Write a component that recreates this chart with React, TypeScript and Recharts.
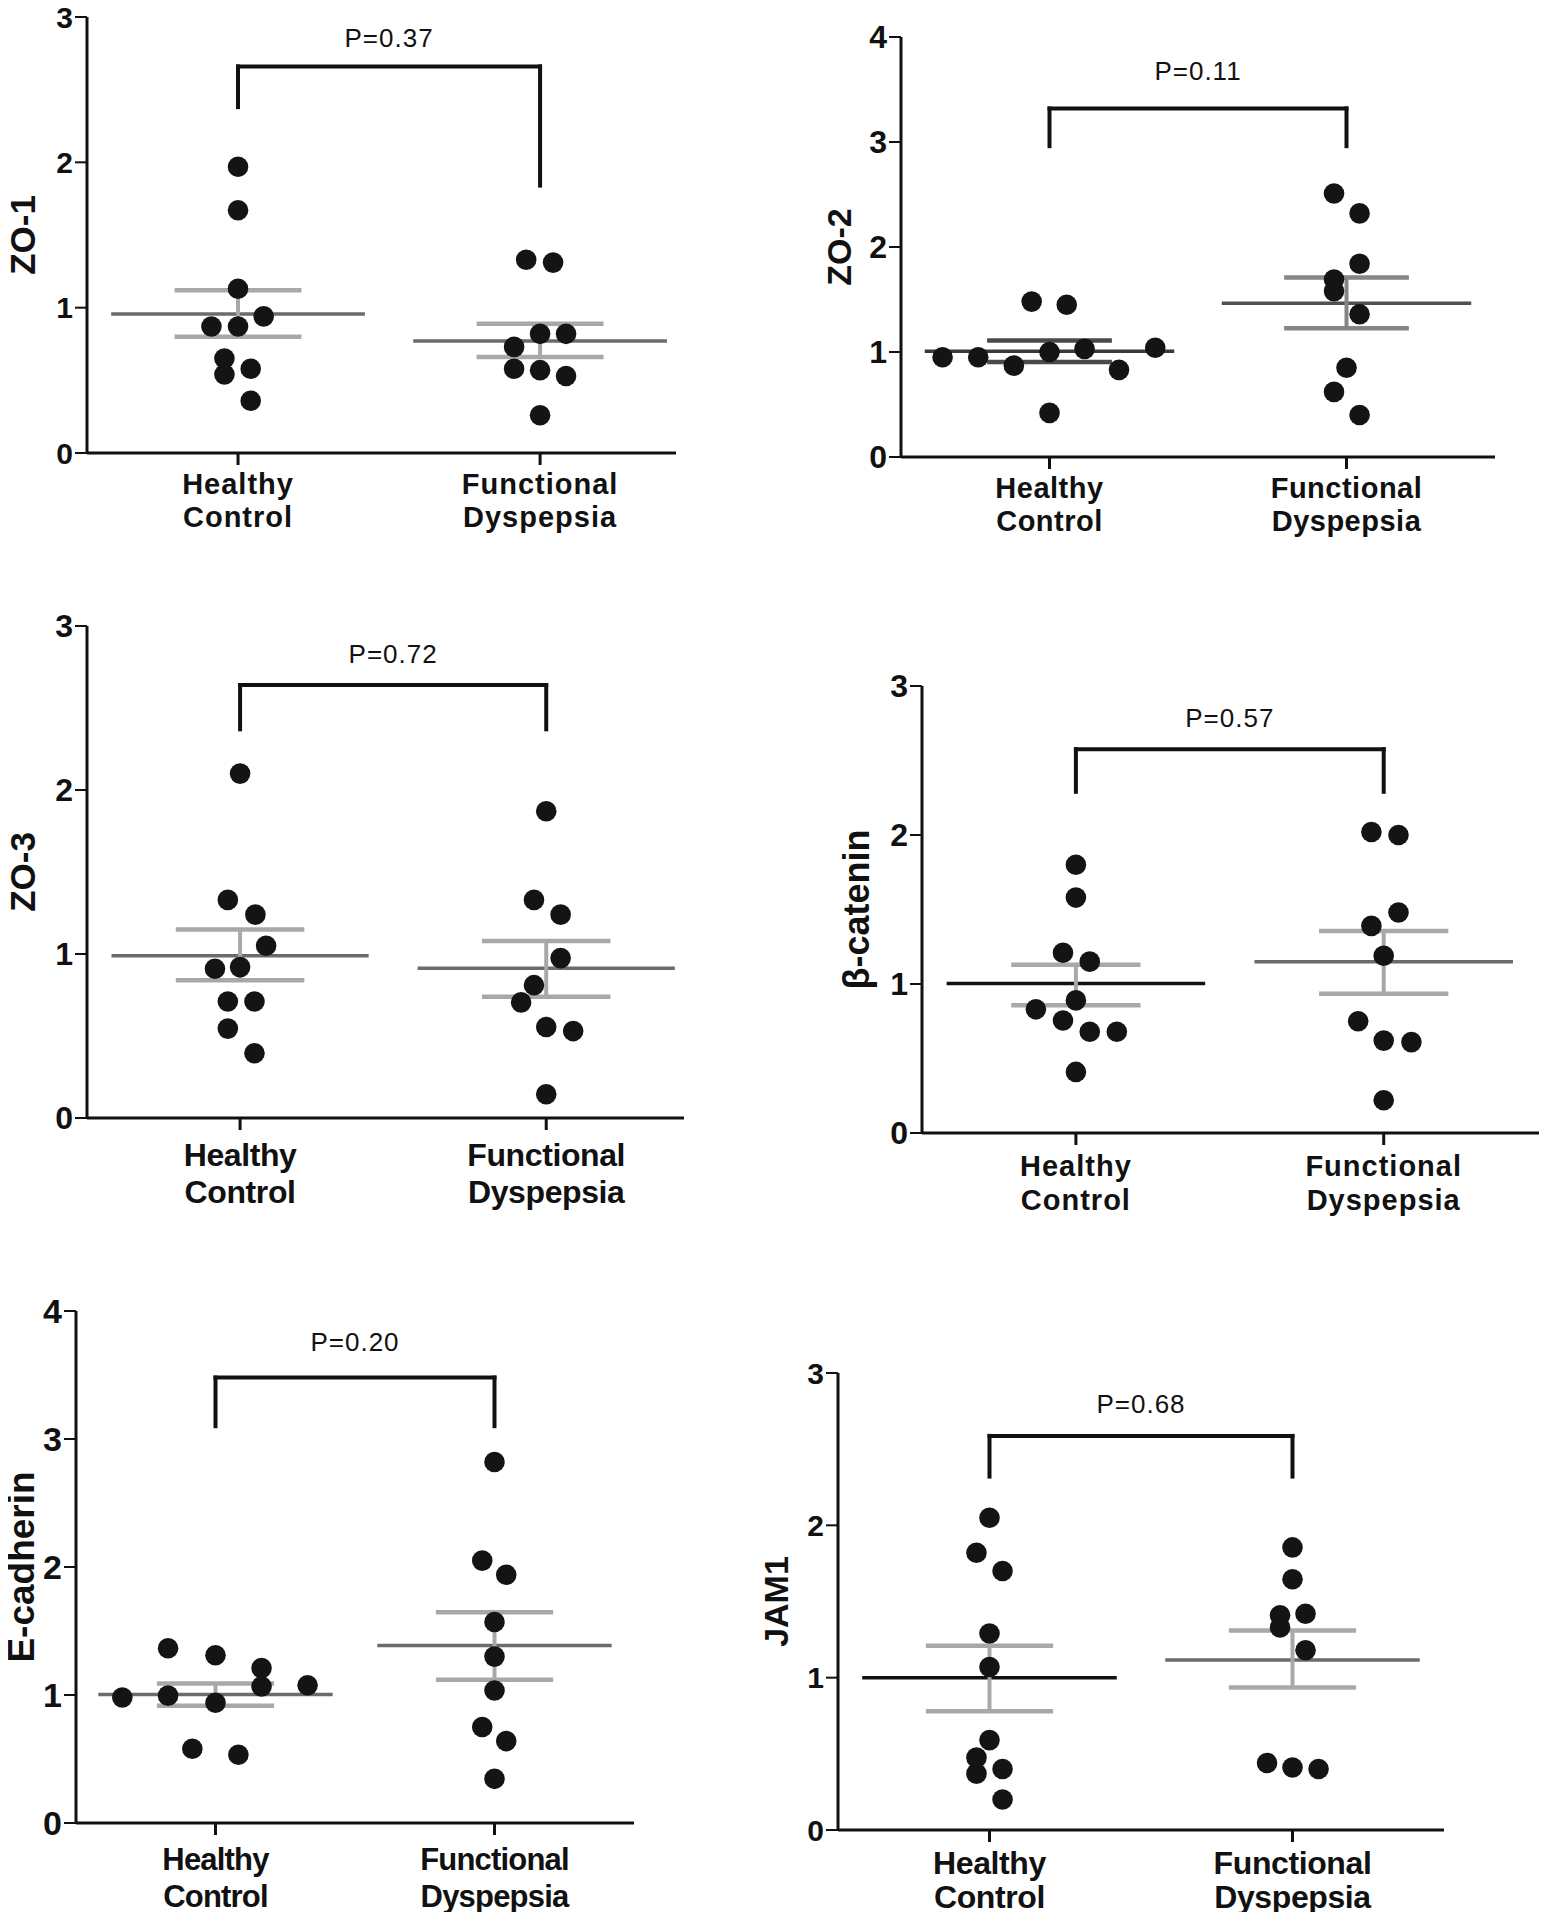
import React from 'react'
import { ScatterChart, Scatter, XAxis, YAxis, ReferenceLine, ReferenceDot } from 'recharts'

const FONT = '"Liberation Sans", Arial, sans-serif'

const groups = [
  ['Healthy', 'Control'],
  ['Functional', 'Dyspepsia'],
]

// values; jitter = horizontal offset of each dot (in group widths)
const zo1Healthy = [1.97, 1.67, 1.13, 0.94, 0.87, 0.87, 0.65, 0.54, 0.58, 0.36]
const zo1HealthyJitter = [0, 0, 0, 0.085, -0.088, 0, -0.045, -0.045, 0.042, 0.042]
const zo1Functional = [1.33, 1.31, 0.82, 0.82, 0.73, 0.58, 0.57, 0.53, 0.26]
const zo1FunctionalJitter = [-0.046, 0.043, 0, 0.086, -0.086, -0.086, 0, 0.086, 0]

const zo2Healthy = [1.48, 1.45, 0.95, 0.95, 0.87, 1.0, 1.03, 0.83, 1.04, 0.42]
const zo2HealthyJitter = [-0.06, 0.058, -0.36, -0.24, -0.12, 0, 0.118, 0.234, 0.356, 0]
const zo2Functional = [2.51, 2.32, 1.84, 1.69, 1.58, 1.36, 0.85, 0.62, 0.4]
const zo2FunctionalJitter = [-0.042, 0.044, 0.044, -0.042, -0.042, 0.044, 0, -0.042, 0.044]

const zo3Healthy = [2.1, 1.33, 1.24, 1.05, 0.91, 0.92, 0.71, 0.71, 0.545, 0.395]
const zo3HealthyJitter = [0, -0.04, 0.05, 0.085, -0.082, 0, -0.04, 0.047, -0.04, 0.047]
const zo3Functional = [1.87, 1.33, 1.24, 0.975, 0.81, 0.705, 0.555, 0.53, 0.145]
const zo3FunctionalJitter = [0, -0.04, 0.047, 0.047, -0.04, -0.082, 0, 0.088, 0]

const bcatHealthy = [1.8, 1.58, 1.21, 1.15, 0.89, 0.83, 0.755, 0.68, 0.68, 0.41]
const bcatHealthyJitter = [0, 0, -0.042, 0.045, 0, -0.13, -0.042, 0.045, 0.133, 0]
const bcatFunctional = [2.02, 2.0, 1.48, 1.39, 1.19, 0.75, 0.62, 0.61, 0.22]
const bcatFunctionalJitter = [-0.04, 0.048, 0.048, -0.04, 0, -0.083, 0, 0.09, 0]

const ecadHealthy = [0.98, 1.365, 0.995, 0.58, 1.31, 0.94, 0.533, 1.21, 1.067, 1.076]
const ecadHealthyJitter = [-0.334, -0.17, -0.17, -0.083, 0, 0, 0.082, 0.165, 0.165, 0.33]
const ecadFunctional = [2.82, 2.05, 1.94, 1.57, 1.3, 1.035, 0.75, 0.64, 0.345]
const ecadFunctionalJitter = [0, -0.044, 0.042, 0, 0, 0, -0.044, 0.042, 0]

const jamHealthy = [2.05, 1.82, 1.7, 1.29, 1.07, 0.59, 0.475, 0.37, 0.4, 0.2]
const jamHealthyJitter = [0, -0.043, 0.043, 0, 0, 0, -0.043, -0.043, 0.043, 0.043]
const jamFunctional = [1.855, 1.646, 1.41, 1.42, 1.33, 1.18, 0.44, 0.41, 0.4]
const jamFunctionalJitter = [0, 0, -0.041, 0.043, -0.041, 0.043, -0.084, 0, 0.086]

// mean and SEM per group [healthy, functional]
const zo1Mean = [0.956, 0.77]
const zo1SemHi = [1.12, 0.89]
const zo1SemLo = [0.8, 0.66]
const zo2Mean = [1.007, 1.464]
const zo2SemHi = [1.11, 1.71]
const zo2SemLo = [0.905, 1.227]
const zo3Mean = [0.99, 0.913]
const zo3SemHi = [1.15, 1.08]
const zo3SemLo = [0.84, 0.74]
const bcatMean = [1.003, 1.15]
const bcatSemHi = [1.13, 1.356]
const bcatSemLo = [0.857, 0.935]
const ecadMean = [1.004, 1.387]
const ecadSemHi = [1.09, 1.647]
const ecadSemLo = [0.916, 1.12]
const jamMean = [1.0, 1.116]
const jamSemHi = [1.21, 1.31]
const jamSemLo = [0.78, 0.936]

// bracket: [top, left arm end, right arm end], P label height
const titles = ['ZO-1', 'ZO-2', 'ZO-3', 'β-catenin', 'E-cadherin', 'JAM1']
const pLabels = ['P=0.37', 'P=0.11', 'P=0.72', 'P=0.57', 'P=0.20', 'P=0.68']
const pLabelY = [2.86, 3.68, 2.83, 2.79, 3.76, 2.8]
const brackets = [
  [2.66, 2.38, 1.84],
  [3.32, 2.96, 2.96],
  [2.64, 2.37, 2.37],
  [2.576, 2.29, 2.29],
  [3.48, 3.1, 3.1],
  [2.587, 2.32, 2.32],
]
const yMax = [3, 4, 3, 3, 4, 3]

const panels = [
  { healthy: zo1Healthy, hj: zo1HealthyJitter, functional: zo1Functional, fj: zo1FunctionalJitter, mean: zo1Mean, hi: zo1SemHi, lo: zo1SemLo },
  { healthy: zo2Healthy, hj: zo2HealthyJitter, functional: zo2Functional, fj: zo2FunctionalJitter, mean: zo2Mean, hi: zo2SemHi, lo: zo2SemLo },
  { healthy: zo3Healthy, hj: zo3HealthyJitter, functional: zo3Functional, fj: zo3FunctionalJitter, mean: zo3Mean, hi: zo3SemHi, lo: zo3SemLo },
  { healthy: bcatHealthy, hj: bcatHealthyJitter, functional: bcatFunctional, fj: bcatFunctionalJitter, mean: bcatMean, hi: bcatSemHi, lo: bcatSemLo },
  { healthy: ecadHealthy, hj: ecadHealthyJitter, functional: ecadFunctional, fj: ecadFunctionalJitter, mean: ecadMean, hi: ecadSemHi, lo: ecadSemLo },
  { healthy: jamHealthy, hj: jamHealthyJitter, functional: jamFunctional, fj: jamFunctionalJitter, mean: jamMean, hi: jamSemHi, lo: jamSemLo },
]

// page layout of each plot area (px) and styling; `unit` = px between the two groups
const layouts = [
  { left: 87, top: 17, unit: 302, xMax: 2.45, height: 436, tickFont: 30, catFont: 29, catSpacing: 1, catDy: 27, catGap: 33, titleFont: 35, titleDx: -65, meanColor: ['#6b6b6b', '#6b6b6b'], semColor: ['#a8a8a8', '#a8a8a8'] },
  { left: 901, top: 37, unit: 297, xMax: 2.5, height: 420, tickFont: 32, catFont: 29, catSpacing: 0.5, catDy: 27, catGap: 33, titleFont: 34, titleDx: -62, meanColor: ['#3a3a3a', '#505050'], semColor: ['#4a4a4a', '#858585'] },
  { left: 87, top: 626, unit: 306, xMax: 2.45, height: 492, tickFont: 32, catFont: 32, catSpacing: -0.4, catDy: 34, catGap: 37, titleFont: 35, titleDx: -65, meanColor: ['#6b6b6b', '#6b6b6b'], semColor: ['#a8a8a8', '#a8a8a8'] },
  { left: 922, top: 686, unit: 308, xMax: 2.55, height: 447, tickFont: 32, catFont: 29, catSpacing: 1, catDy: 29, catGap: 34, titleFont: 36, titleDx: -66, meanColor: ['#111111', '#6b6b6b'], semColor: ['#a8a8a8', '#a8a8a8'] },
  { left: 76, top: 1311, unit: 279, xMax: 2.5, height: 512, tickFont: 34, catFont: 31, catSpacing: -0.8, catDy: 33, catGap: 37, titleFont: 37, titleDx: -55, meanColor: ['#6b6b6b', '#6b6b6b'], semColor: ['#a8a8a8', '#a8a8a8'] },
  { left: 838, top: 1373, unit: 303, xMax: 2.5, height: 457, tickFont: 30, catFont: 32, catSpacing: -0.4, catDy: 30, catGap: 34, titleFont: 34, titleDx: -62, meanColor: ['#111111', '#6b6b6b'], semColor: ['#a8a8a8', '#a8a8a8'] },
]

const Y_W = 100
const TOP_PAD = 24
const X_H = 110
const RIGHT_PAD = 10

function GroupTick(props: any) {
  const { x, y, payload, fontSize, spacing, dy, gap } = props
  const lines = groups[Math.round(payload.value) - 1]
  if (!lines) return null
  return (
    <text
      x={x}
      y={y + dy}
      textAnchor="middle"
      fontFamily={FONT}
      fontWeight="bold"
      fontSize={fontSize}
      letterSpacing={spacing}
      fill="#111"
    >
      <tspan x={x} dy={0}>{lines[0]}</tspan>
      <tspan x={x} dy={gap}>{lines[1]}</tspan>
    </text>
  )
}

function TitleLabel(props: any) {
  const { viewBox, title, fontSize, dx } = props
  if (!viewBox) return null
  const cx = viewBox.x + viewBox.width + dx
  const cy = viewBox.y + viewBox.height / 2
  return (
    <text
      x={cx}
      y={cy}
      transform={`rotate(-90 ${cx} ${cy})`}
      textAnchor="middle"
      dominantBaseline="central"
      fontFamily={FONT}
      fontWeight="bold"
      fontSize={fontSize}
      fill="#111"
    >
      {title}
    </text>
  )
}

function Panel({ index }: { index: number }) {
  const p = panels[index]
  const l = layouts[index]
  const plotWidth = Math.round((l.xMax - 0.5) * l.unit)
  const [bTop, bLeft, bRight] = brackets[index]
  const healthyPts = p.healthy.map((v, i) => ({ x: 1 + p.hj[i], y: v }))
  const functionalPts = p.functional.map((v, i) => ({ x: 2 + p.fj[i], y: v }))
  const ticks = Array.from({ length: yMax[index] + 1 }, (_, i) => i)
  const dot = (s: any) => <circle cx={s.cx} cy={s.cy} r={10.3} fill="#141414" />

  return (
    <div style={{ position: 'absolute', left: l.left - Y_W, top: l.top - TOP_PAD }}>
      <ScatterChart
        width={Y_W + plotWidth + RIGHT_PAD}
        height={TOP_PAD + l.height + X_H}
        margin={{ top: TOP_PAD, right: RIGHT_PAD, bottom: 0, left: 0 }}
      >
        <XAxis
          type="number"
          dataKey="x"
          domain={[0.5, l.xMax]}
          ticks={[1, 2]}
          height={X_H}
          axisLine={{ stroke: '#111', strokeWidth: 3 }}
          tickLine={{ stroke: '#111', strokeWidth: 3 }}
          tickSize={12}
          interval={0}
          tick={<GroupTick fontSize={l.catFont} spacing={l.catSpacing} dy={l.catDy} gap={l.catGap} />}
        />
        <YAxis
          type="number"
          dataKey="y"
          domain={[0, yMax[index]]}
          ticks={ticks}
          width={Y_W}
          interval={0}
          axisLine={{ stroke: '#111', strokeWidth: 3 }}
          tickLine={{ stroke: '#111', strokeWidth: 2 }}
          tickSize={12}
          tick={{ fontSize: l.tickFont, fontWeight: 'bold', fill: '#111', fontFamily: FONT }}
          label={<TitleLabel title={titles[index]} fontSize={l.titleFont} dx={l.titleDx} />}
        />
        <Scatter data={healthyPts} shape={dot} isAnimationActive={false} />
        <Scatter data={functionalPts} shape={dot} isAnimationActive={false} />
        {[1, 2].map((g, gi) => (
          <ReferenceLine
            key={`mean-${g}`}
            segment={[{ x: g - 0.42, y: p.mean[gi] }, { x: g + 0.42, y: p.mean[gi] }]}
            stroke={l.meanColor[gi]}
            strokeWidth={3.5}
            ifOverflow="visible"
          />
        ))}
        {[1, 2].map((g, gi) => (
          <ReferenceLine
            key={`hi-${g}`}
            segment={[{ x: g - 0.21, y: p.hi[gi] }, { x: g + 0.21, y: p.hi[gi] }]}
            stroke={l.semColor[gi]}
            strokeWidth={4.5}
            ifOverflow="visible"
          />
        ))}
        {[1, 2].map((g, gi) => (
          <ReferenceLine
            key={`lo-${g}`}
            segment={[{ x: g - 0.21, y: p.lo[gi] }, { x: g + 0.21, y: p.lo[gi] }]}
            stroke={l.semColor[gi]}
            strokeWidth={4.5}
            ifOverflow="visible"
          />
        ))}
        {[1, 2].map((g, gi) => (
          <ReferenceLine
            key={`err-${g}`}
            segment={[{ x: g, y: p.lo[gi] }, { x: g, y: p.hi[gi] }]}
            stroke={l.semColor[gi]}
            strokeWidth={4}
            ifOverflow="visible"
          />
        ))}
        <ReferenceLine segment={[{ x: 1, y: bLeft }, { x: 1, y: bTop }]} stroke="#111" strokeWidth={4} strokeLinecap="square" ifOverflow="visible" />
        <ReferenceLine segment={[{ x: 1, y: bTop }, { x: 2, y: bTop }]} stroke="#111" strokeWidth={4} strokeLinecap="square" ifOverflow="visible" />
        <ReferenceLine segment={[{ x: 2, y: bTop }, { x: 2, y: bRight }]} stroke="#111" strokeWidth={4} strokeLinecap="square" ifOverflow="visible" />
        <ReferenceDot
          x={1.5}
          y={pLabelY[index]}
          r={1}
          fill="none"
          stroke="none"
          ifOverflow="visible"
          label={{ value: pLabels[index], position: 'center', fontSize: 26, fill: '#111', fontFamily: FONT, letterSpacing: 1 }}
        />
      </ScatterChart>
    </div>
  )
}

export default function App() {
  return (
    <div style={{ position: 'relative', width: 1547, height: 1920, margin: -8, overflow: 'hidden', background: '#fff' }}>
      {panels.map((_, i) => (
        <Panel key={i} index={i} />
      ))}
    </div>
  )
}
